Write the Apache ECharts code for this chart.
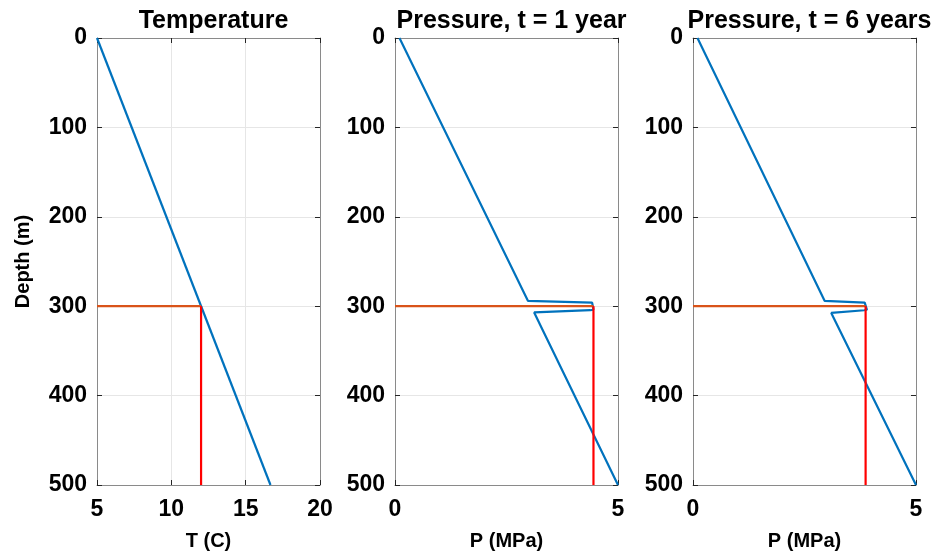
<!DOCTYPE html>
<html><head><meta charset="utf-8">
<script src="https://cdn.jsdelivr.net/npm/echarts@6/dist/echarts.min.js"></script>
<style>html,body{margin:0;padding:0;background:#fff}#c{width:938px;height:557px}</style>
</head><body><div id="c"></div>
<script>
// Data
const titles = ['Temperature', 'Pressure, t = 1 year', 'Pressure, t = 6 years'];
const xNames = ['T (C)', 'P (MPa)', 'P (MPa)'];
const yName = 'Depth (m)';
const xRanges = [[5, 20, 5], [0, 5, 5], [0, 5, 5]];
const depthRange = [0, 500, 100];
// [x, depth]
const tempProfile = [[5, 0], [16.67, 500]];
const tempMarkH = [[5, 300], [12, 300]];
const tempMarkV = [[12, 300], [12, 500]];
const press1Profile = [[0.1, 0], [2.98, 294], [4.42, 296], [4.45, 297.5], [4.45, 304], [4.38, 304.5], [3.12, 307], [5, 500]];
const press1MarkH = [[0, 300], [4.45, 300]];
const press1MarkV = [[4.45, 300], [4.45, 500]];
const press6Profile = [[0.1, 0], [2.95, 294], [3.85, 296], [3.88, 297.5], [3.9, 304], [3.84, 304.5], [3.1, 307.5], [5, 500]];
const press6MarkH = [[0, 300], [3.87, 300]];
const press6MarkV = [[3.87, 300], [3.87, 500]];

const profiles = [tempProfile, press1Profile, press6Profile];
const marksH = [tempMarkH, press1MarkH, press6MarkH];
const marksV = [tempMarkV, press1MarkV, press6MarkV];

const gridLefts = [97, 395, 693];
const gridW = 223;
const FONT = '"Liberation Sans", Arial, sans-serif';
const boxColor = '#8a8a8a';
const tickColor = '#262626';
const gridColor = '#e6e6e6';

const chart = echarts.init(document.getElementById('c'), null, {renderer: 'canvas'});
const option = {
  animation: false,
  title: [], grid: [], xAxis: [], yAxis: [], series: []
};
for (let i = 0; i < 3; i++) {
  option.title.push({
    text: titles[i], left: gridLefts[i] + gridW / 2, top: 4, textAlign: 'center',
    textStyle: {fontFamily: FONT, fontWeight: 'bold', fontSize: 25, color: '#000'}
  });
  option.grid.push({left: gridLefts[i], width: gridW, top: 38, height: 447, show: false});
  const [xmin, xmax, xint] = xRanges[i];
  option.xAxis.push({
    type: 'value', gridIndex: i, min: xmin, max: xmax, interval: xint, position: 'bottom',
    name: xNames[i], nameLocation: 'middle', nameGap: 46,
    nameTextStyle: {fontFamily: FONT, fontWeight: 'bold', fontSize: 20, color: '#000'},
    axisLine: {show: true, onZero: false, lineStyle: {color: boxColor, width: 1}},
    axisTick: {show: true, inside: true, length: 5, lineStyle: {color: tickColor}},
    axisLabel: {fontFamily: FONT, fontWeight: 'bold', fontSize: 23, color: '#000', margin: 13},
    splitLine: {show: true, lineStyle: {color: gridColor, width: 1}}
  });
  option.xAxis.push({
    type: 'value', gridIndex: i, min: xmin, max: xmax, interval: xint, position: 'top',
    axisLine: {show: true, onZero: false, lineStyle: {color: boxColor, width: 1}},
    axisTick: {show: true, inside: true, length: 5, lineStyle: {color: tickColor}},
    axisLabel: {show: false}, splitLine: {show: false}
  });
  option.yAxis.push({
    type: 'value', gridIndex: i, min: depthRange[0], max: depthRange[1], interval: depthRange[2],
    inverse: true, position: 'left',
    name: i === 0 ? yName : '', nameLocation: 'middle', nameGap: 64, nameRotate: 90,
    nameTextStyle: {fontFamily: FONT, fontWeight: 'bold', fontSize: 20, color: '#000'},
    axisLine: {show: true, onZero: false, lineStyle: {color: boxColor, width: 1}},
    axisTick: {show: true, inside: true, length: 5, lineStyle: {color: tickColor}},
    axisLabel: {fontFamily: FONT, fontWeight: 'bold', fontSize: 23, color: '#000', margin: 10},
    splitLine: {show: true, lineStyle: {color: gridColor, width: 1}}
  });
  option.yAxis.push({
    type: 'value', gridIndex: i, min: depthRange[0], max: depthRange[1], interval: depthRange[2],
    inverse: true, position: 'right',
    axisLine: {show: true, onZero: false, lineStyle: {color: boxColor, width: 1}},
    axisTick: {show: true, inside: true, length: 5, lineStyle: {color: tickColor}},
    axisLabel: {show: false}, splitLine: {show: false}
  });
  const xi = i * 2, yi = i * 2;
  option.series.push({
    type: 'line', xAxisIndex: xi, yAxisIndex: yi, data: profiles[i], showSymbol: false,
    lineStyle: {color: '#0072BD', width: 2.2}, z: 3
  });
  option.series.push({
    type: 'line', xAxisIndex: xi, yAxisIndex: yi, data: marksH[i], showSymbol: false,
    lineStyle: {color: '#D95319', width: 2.2}, z: 4
  });
  option.series.push({
    type: 'line', xAxisIndex: xi, yAxisIndex: yi, data: marksV[i], showSymbol: false,
    lineStyle: {color: '#FF0000', width: 2.2}, z: 5
  });
}
chart.setOption(option);
</script>
</body></html>
